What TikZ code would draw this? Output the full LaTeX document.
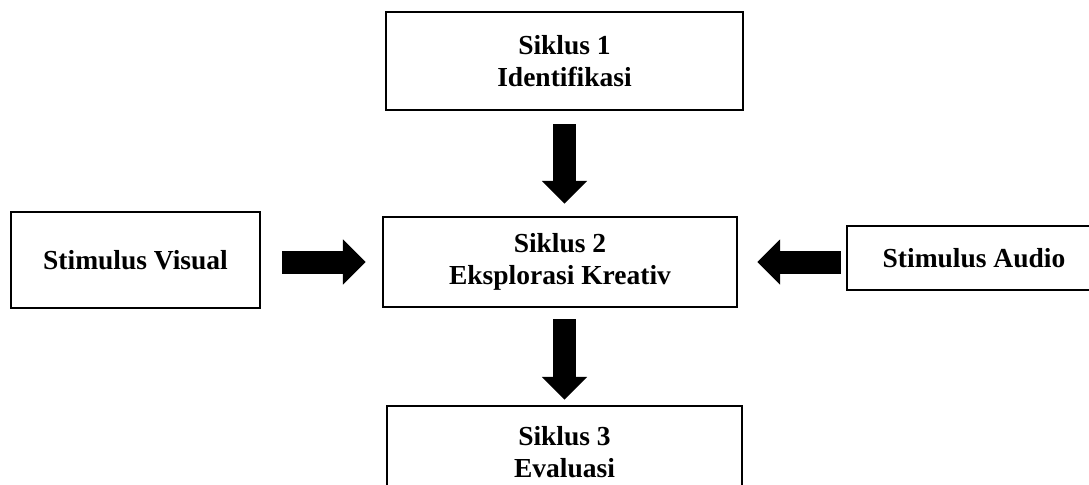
\documentclass[tikz,border=0pt]{standalone}
\usepackage{fontspec}
\setmainfont{Liberation Serif}
\usetikzlibrary{arrows.meta}

\tikzset{
	kotak/.style = {draw, line width=1.2pt, align=center, inner sep=0pt,
		font=\bfseries\fontsize{13.75}{16}\selectfont},
	panah/.style = {line width=11.5pt, -{Triangle[length=11.5pt, width=22pt]}}
}

\begin{document}
\begin{tikzpicture}[x=0.5pt, y=-0.5pt]
			%\draw[help lines] (0,0) grid (1089,484);
			\clip (0,0) rectangle (1089,484);
			\node[kotak, minimum width=178.5pt, minimum height=49pt] (s1) at (564.5, 61) {Siklus 1\\Identifikasi};
			\node[kotak, minimum width=177pt, minimum height=45pt] (s2) at (560, 262) {Siklus 2\\Eksplorasi Kreativ};
			\node[kotak, minimum width=124.5pt, minimum height=48pt] (vis) at (135.5, 260) {Stimulus Visual};
			\node[kotak, minimum width=127pt, minimum height=32pt] (aud) at (974, 258) {Stimulus Audio};
			\node[kotak, minimum width=177.5pt, minimum height=46pt] (s3) at (564.5, 452) {Siklus 3\\Evaluasi};
			
			\draw[panah, shorten <=6.5pt, shorten >=6pt] (s1.south) -- (s2.north -| s1.south);
			\draw[panah, shorten <=10.5pt, shorten >=8pt] (vis.east |- s2.west) -- (s2.west);
			\draw[panah, shorten <=2.5pt, shorten >=9.5pt] (aud.west |- s2.east) -- (s2.east);
			\draw[panah, shorten <=5.5pt, shorten >=2.5pt] (s2.south -| s3.north) -- (s3.north);
		\end{tikzpicture}
\end{document}
